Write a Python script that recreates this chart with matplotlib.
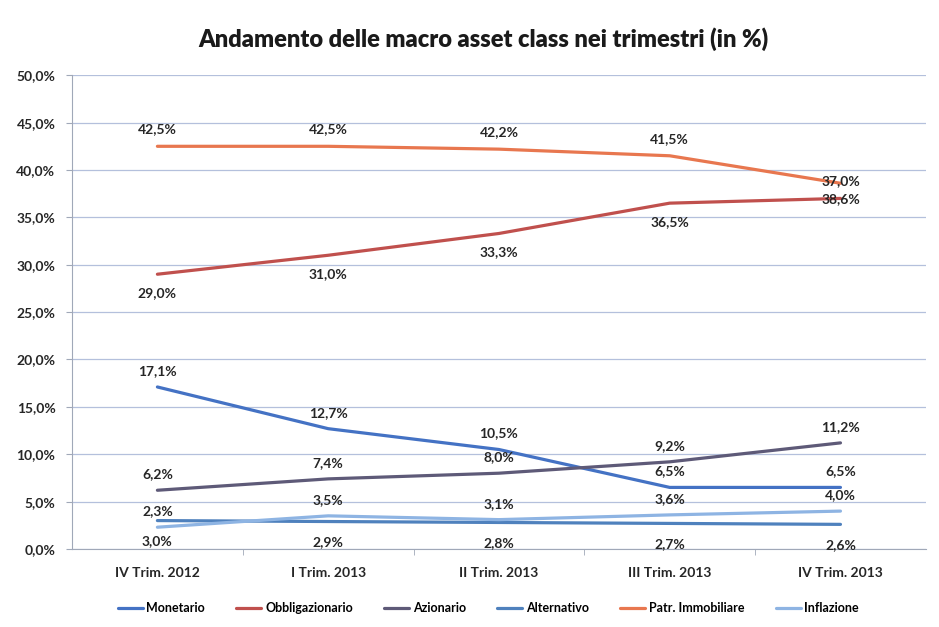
import matplotlib
matplotlib.use("Agg")
import matplotlib.pyplot as plt
from matplotlib.ticker import FuncFormatter, FixedLocator

plt.rcParams['font.family'] = ['Lato', 'DejaVu Sans']

categories = ["IV Trim. 2012", "I Trim. 2013", "II Trim. 2013", "III Trim. 2013", "IV Trim. 2013"]

monetario = [17.1, 12.7, 10.5, 6.5, 6.5]
obbligazionario = [29.0, 31.0, 33.3, 36.5, 37.0]
azionario = [6.2, 7.4, 8.0, 9.2, 11.2]
alternativo = [3.0, 2.9, 2.8, 2.7, 2.6]
patr_immobiliare = [42.5, 42.5, 42.2, 41.5, 38.6]
inflazione = [2.3, 3.5, 3.1, 3.6, 4.0]

series = [
    ("Monetario", monetario, "#4472C4", [16] * 5),
    ("Obbligazionario", obbligazionario, "#C0504D", [-19, -19, -19, -19, 17]),
    ("Azionario", azionario, "#5E5A78", [16] * 5),
    ("Alternativo", alternativo, "#4F81BD", [-21] * 5),
    ("Patr. Immobiliare", patr_immobiliare, "#E8774F", [17, 17, 17, 17, -16]),
    ("Inflazione", inflazione, "#8EB4E3", [16] * 5),
]

fig = plt.figure(figsize=(9.39, 6.27), dpi=100)
ax = fig.add_axes([0.0767, 0.1244, 0.9093, 0.7556])

x = list(range(len(categories)))
for name, vals, color, offs in series:
    ax.plot(x, vals, color=color, lw=2.3, label=name, solid_capstyle='round')
    for xi, v, o in zip(x, vals, offs):
        ax.annotate(f"{v:.1f}%".replace(".", ","), (xi, v), xytext=(0, o),
                    textcoords="offset pixels",
                    ha="center", va="center", fontsize=10, fontweight="bold",
                    color="#262626")

ax.set_xlim(-0.5, len(categories) - 0.5)
ax.set_ylim(0, 50)
ax.set_yticks([0, 5, 10, 15, 20, 25, 30, 35, 40, 45, 50])
ax.yaxis.set_major_formatter(FuncFormatter(lambda v, p: f"{v:.1f}%".replace(".", ",")))
ax.set_xticks(x)
ax.set_xticklabels(categories)
ax.xaxis.set_minor_locator(FixedLocator([i + 0.5 for i in range(len(categories) - 1)]))
ax.tick_params(axis="x", which="major", length=0, pad=13)
ax.tick_params(axis="x", which="minor", length=4, color="#A0A8B8")
ax.tick_params(axis="y", length=4, color="#A0A8B8", pad=8)
for lab in ax.get_xticklabels() + ax.get_yticklabels():
    lab.set_fontweight("bold")
    lab.set_fontsize(10)
    lab.set_color("#262626")

ax.grid(axis="y", color="#B4C0DC", lw=0.9)
ax.set_axisbelow(True)
for s in ["top", "right"]:
    ax.spines[s].set_visible(False)
ax.spines["left"].set_color("#A0A8B8")
ax.spines["bottom"].set_color("#A0A8B8")

fig.text(0.515, 0.937, "Andamento delle macro asset class nei trimestri (in %)",
         ha="center", va="center", fontsize=17, fontweight="heavy", color="#1a1a1a")

leg = fig.legend(loc="center", bbox_to_anchor=(0.52, 0.03), ncol=6, frameon=False,
                 handlelength=2.0, columnspacing=2.5, handletextpad=0.3,
                 prop={"weight": "bold", "size": 9})

fig.savefig("out.png", dpi=100, facecolor="white")
